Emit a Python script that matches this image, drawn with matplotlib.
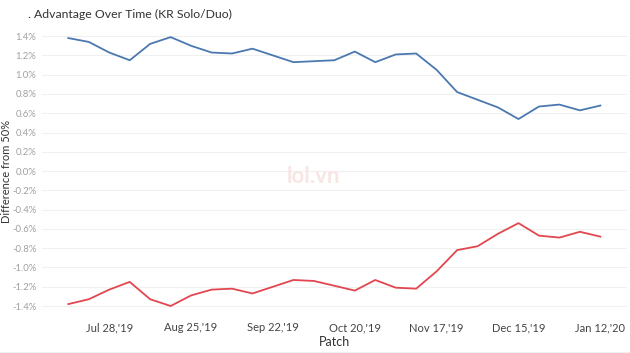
import matplotlib
matplotlib.use('Agg')
import matplotlib.pyplot as plt
import numpy as np
import pandas as pd

# weekly patch dates, Jul 14 2019 .. Jan 12 2020
patch_dates = pd.date_range('2019-07-14', '2020-01-12', freq='7D')

blue_side = [1.38, 1.34, 1.23, 1.15, 1.32, 1.39, 1.30, 1.23, 1.22, 1.27, 1.20, 1.13,
             1.14, 1.15, 1.24, 1.13, 1.21, 1.22, 1.05, 0.82, 0.74, 0.66, 0.54, 0.67,
             0.69, 0.63, 0.68]
red_side = [-1.38, -1.33, -1.23, -1.15, -1.33, -1.40, -1.29, -1.23, -1.22, -1.27, -1.20, -1.13,
            -1.14, -1.19, -1.24, -1.13, -1.21, -1.22, -1.04, -0.82, -0.78, -0.65, -0.54, -0.67,
            -0.69, -0.63, -0.68]

tick_dates = pd.date_range('2019-07-28', '2020-01-12', freq='28D')
tick_labels = ["Jul 28,'19", "Aug 25,'19", "Sep 22,'19", "Oct 20,'19",
               "Nov 17,'19", "Dec 15,'19", "Jan 12,'20"]
y_ticks = np.arange(-1.4, 1.41, 0.2)

plt.rcParams['font.family'] = ['Lato', 'DejaVu Sans']

fig = plt.figure(figsize=(6.3, 3.53), dpi=100)
ax = fig.add_axes([0.0667, 0.099, 0.928, 0.830])

ax.plot(patch_dates, blue_side, color='#4a78b0', lw=1.3)
ax.plot(patch_dates, red_side, color='#e2474f', lw=1.3)

ax.set_xlim(pd.Timestamp('2019-07-05'), pd.Timestamp('2020-01-21'))
ax.set_ylim(-1.525, 1.515)
ax.set_yticks(y_ticks)
ax.set_yticklabels(['%.1f%%' % v if abs(v) > 1e-9 else '0.0%' for v in y_ticks])
ax.set_xticks(tick_dates)
ax.set_xticklabels(tick_labels)

ax.grid(axis='y', color='#f0f0f0', lw=0.8)
ax.set_axisbelow(True)
for s in ax.spines.values():
    s.set_visible(False)
ax.tick_params(axis='y', length=0, pad=4, labelsize=6.8, labelcolor='#a0a0a0')
ax.tick_params(axis='x', length=0, pad=3, labelsize=8, labelcolor='#444444')

ax.set_ylabel('Difference from 50%', fontsize=8, color='#333333')
ax.yaxis.set_label_coords(-0.051, 0.5)
ax.set_xlabel('Patch', fontsize=9, color='#333333', labelpad=2)

fig.text(0.045, 0.960, '. Advantage Over Time (KR Solo/Duo)', fontsize=8.8,
         color='#333333', va='center', ha='left')

# faint watermark
fig.text(0.498, 0.50, 'lol.vn', fontsize=16, fontweight='bold', color='#f7e6e3',
         ha='center', va='center', zorder=0)

fig.add_artist(plt.Line2D([0, 1], [0.004, 0.004], color='#f0f0f0', lw=0.8))

fig.savefig('out.png', dpi=100)
